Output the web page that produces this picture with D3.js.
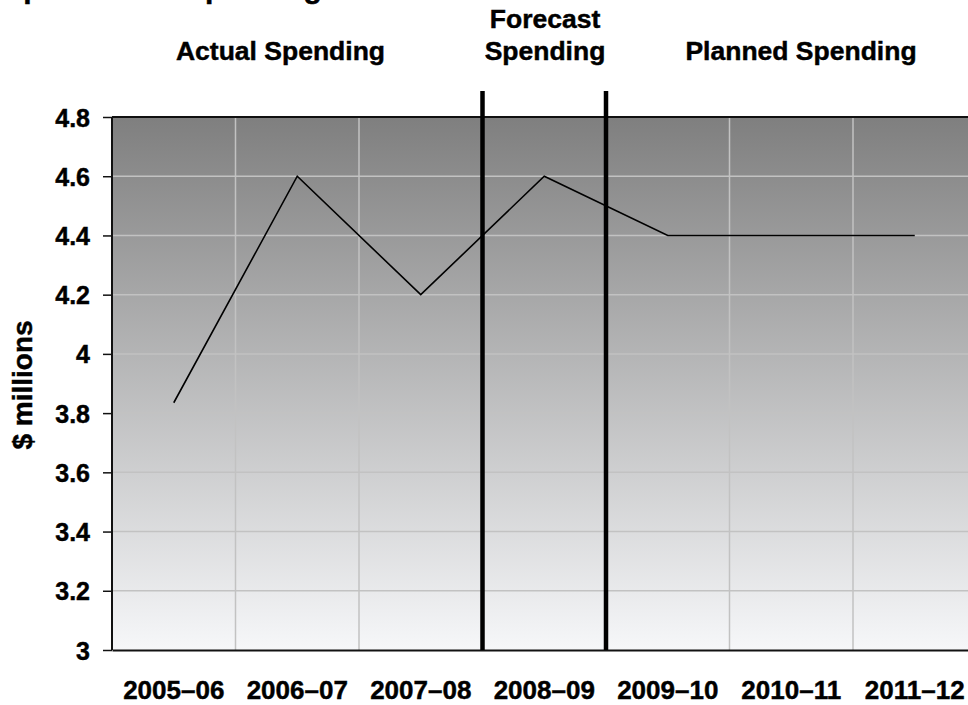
<!DOCTYPE html>
<html>
<head>
<meta charset="utf-8">
<script src="https://cdn.jsdelivr.net/npm/d3@7"></script>
<style>
  html, body { margin: 0; padding: 0; background: #fff; overflow: hidden; }
  svg { display: block; font-family: "Liberation Sans", Arial, sans-serif; font-weight: bold; }
  svg text { stroke: #000; stroke-width: 0.45px; paint-order: stroke; }
</style>
</head>
<body>
<svg id="chart" width="968" height="705"></svg>
<script>
const categories = ["2005–06", "2006–07", "2007–08", "2008–09", "2009–10", "2010–11", "2011–12"];
const spending = [3.835, 4.6, 4.2, 4.6, 4.4, 4.4, 4.4];
const yTicks = [3, 3.2, 3.4, 3.6, 3.8, 4, 4.2, 4.4, 4.6, 4.8];
const phaseLabels = [["Actual Spending"], ["Forecast", "Spending"], ["Planned Spending"]];
const phaseBoundaries = ["2008–09", "2009–10"]; // separators sit at the left edge of these bands
const titleText = "Departmental Spending";
const yTitle = "$ millions";

const svg = d3.select("#chart");
const margin = { left: 112, top: 117 };
const plotW = 864.5, plotH = 533;

const x = d3.scaleBand().domain(categories).range([margin.left, margin.left + plotW]).padding(0);
const y = d3.scaleLinear().domain([3, 4.8]).range([margin.top + plotH, margin.top]);

// background gradient
const defs = svg.append("defs");
const grad = defs.append("linearGradient").attr("id", "bg").attr("x1", 0).attr("y1", 0).attr("x2", 0).attr("y2", 1);
grad.append("stop").attr("offset", "0%").attr("stop-color", "#7f7f7f");
grad.append("stop").attr("offset", "100%").attr("stop-color", "#f6f7f9");

svg.append("rect")
  .attr("x", margin.left).attr("y", margin.top)
  .attr("width", plotW).attr("height", plotH)
  .attr("fill", "url(#bg)");

// gridlines
const grid = svg.append("g").attr("stroke", "#c2c2c2").attr("stroke-width", 1.5);
grid.selectAll("line.h").data(yTicks.slice(1, -1)).join("line")
  .attr("x1", margin.left).attr("x2", margin.left + plotW)
  .attr("y1", d => y(d)).attr("y2", d => y(d));
grid.selectAll("line.v").data(categories.slice(1)).join("line")
  .attr("x1", d => x(d)).attr("x2", d => x(d))
  .attr("y1", margin.top).attr("y2", margin.top + plotH);

// top border
svg.append("line").attr("x1", margin.left).attr("x2", margin.left + plotW)
  .attr("y1", margin.top).attr("y2", margin.top).attr("stroke", "#111").attr("stroke-width", 2);

const fontStack = "'Liberation Sans', Arial, sans-serif";

// y axis
const yAxis = d3.axisLeft(y).tickValues(yTicks).tickFormat(d3.format("~g")).tickSize(9).tickPadding(13);
const yg = svg.append("g").attr("transform", `translate(${margin.left},0)`).call(yAxis);
yg.select(".domain").attr("stroke", "#111").attr("stroke-width", 2).attr("d", `M0,${margin.top}V${margin.top + plotH}`);
yg.selectAll(".tick line").attr("stroke", "#111").attr("stroke-width", 1.5);
yg.selectAll(".tick text").attr("fill", "#000").style("font-size", "25px").style("font-weight", "bold")
  .style("font-family", fontStack).attr("dy", "0.36em");

// x axis
const xAxis = d3.axisBottom(x).tickSize(0).tickPadding(31);
const xg = svg.append("g").attr("transform", `translate(0,${margin.top + plotH})`).call(xAxis);
xg.select(".domain").attr("stroke", "#111").attr("stroke-width", 2);
xg.selectAll(".tick text").attr("fill", "#000").style("font-size", "26px").style("font-weight", "bold")
  .style("font-family", fontStack);

// data line
const line = d3.line().x((d, i) => x(categories[i]) + x.bandwidth() / 2).y(d => y(d));
svg.append("path").datum(spending).attr("d", line)
  .attr("fill", "none").attr("stroke", "#000").attr("stroke-width", 1.6);

// phase separators
svg.selectAll("line.sep").data(phaseBoundaries).join("line")
  .attr("class", "sep")
  .attr("x1", d => x(d)).attr("x2", d => x(d))
  .attr("y1", 91).attr("y2", margin.top + plotH)
  .attr("stroke", "#000").attr("stroke-width", 4.5);

// phase headers
const phaseCenters = [280.5, 545, 801];
const ph = svg.append("g").attr("text-anchor", "middle").style("font-size", "26.5px").attr("fill", "#000");
phaseLabels.forEach((lines, i) => {
  const t = ph.append("text").attr("x", phaseCenters[i]).attr("y", lines.length === 1 ? 60 : 28);
  lines.forEach((l, j) => t.append("tspan").attr("x", phaseCenters[i]).attr("dy", j === 0 ? 0 : 32).text(l));
});

// y title
svg.append("text")
  .attr("transform", "translate(32,385) rotate(-90)")
  .attr("text-anchor", "middle").style("font-size", "28px").attr("fill", "#000")
  .text(yTitle);

// title (cropped at the top of the frame, as in the reference)
svg.append("text").attr("x", -15).attr("y", -2).style("font-size", "30px").attr("fill", "#000").text(titleText);
</script>
</body>
</html>
